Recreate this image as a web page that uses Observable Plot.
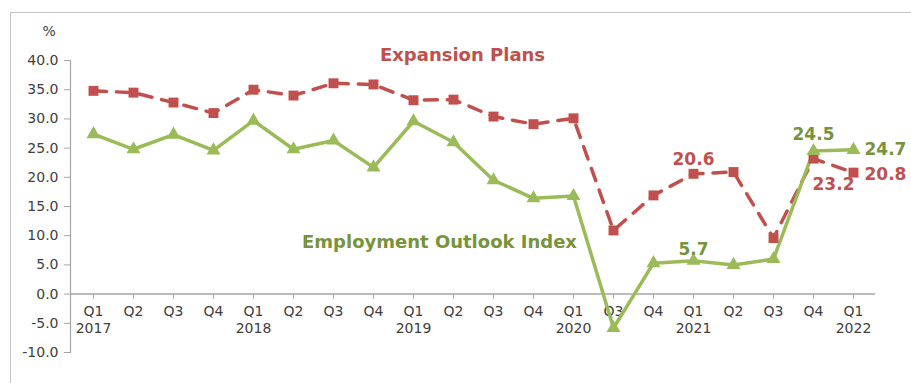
<!DOCTYPE html>
<html><head><meta charset="utf-8">
<script src="https://cdn.jsdelivr.net/npm/d3@7"></script>
<script src="https://cdn.jsdelivr.net/npm/@observablehq/plot@0.6"></script>
<style>
html,body{margin:0;padding:0;background:#fff;overflow:hidden}
#wrap{position:relative;width:911px;height:383px}
#frame{position:absolute;left:10px;top:12px;width:920px;height:400px;border:1.5px solid #c4c4c4;box-sizing:border-box}
#chart{position:absolute;left:0;top:0}
</style></head>
<body><div id="wrap"><div id="frame"></div><div id="chart"></div></div>
<script>
const quarters = ["Q1","Q2","Q3","Q4","Q1","Q2","Q3","Q4","Q1","Q2","Q3","Q4","Q1","Q3","Q4","Q1","Q2","Q3","Q4","Q1"];
const years    = ["2017","","","","2018","","","","2019","","","","2020","","","2021","","","","2022"];
const expansion  = [34.8,34.5,32.8,31.0,35.0,34.0,36.1,35.9,33.2,33.3,30.4,29.1,30.1,10.9,16.9,20.6,20.9,9.6,23.2,20.8];
const employment = [27.4,24.8,27.3,24.6,29.7,24.8,26.3,21.7,29.6,26.0,19.5,16.4,16.8,-5.8,5.3,5.7,5.0,6.0,24.5,24.7];
const yTicks = [40,35,30,25,20,15,10,5,0,-5,-10];

const keys = quarters.map((q,i)=>i);
const exp = keys.map(i=>({i, v: expansion[i]}));
const emp = keys.map(i=>({i, v: employment[i]}));
const red = "#c0504d", green = "#9bbb59", greenText = "#77933c";
const font = "DejaVu Sans";

// labelled points: index, series, offsets
const labelSpecs = [
  {i:15, s:"exp", dx:0,  dy:-14, anchor:"middle"},
  {i:18, s:"exp", dx:20, dy:26,  anchor:"middle"},
  {i:19, s:"exp", dx:11, dy:2,   anchor:"start"},
  {i:15, s:"emp", dx:0,  dy:-11, anchor:"middle"},
  {i:18, s:"emp", dx:0,  dy:-16, anchor:"middle"},
  {i:19, s:"emp", dx:11, dy:0,   anchor:"start"}
];
const labelMarks = labelSpecs.map(s => {
  const v = s.s === "exp" ? expansion[s.i] : employment[s.i];
  return Plot.text([{i: s.i, v}], {x: "i", y: "v", text: d => d.v.toFixed(1), dx: s.dx, dy: s.dy,
    textAnchor: s.anchor, fill: s.s === "exp" ? red : greenText, fontSize: 17, fontWeight: "bold"});
});

const plot = Plot.plot({
  width: 911, height: 383,
  marginLeft: 70, marginRight: 36, marginTop: 60, marginBottom: 31,
  style: {fontFamily: font, background: "transparent", overflow: "visible"},
  x: {type: "point", domain: keys, padding: 0.5, axis: null},
  y: {domain: [-10, 40], label: null, axis: null},
  marks: [
    Plot.axisY({ticks: yTicks, tickFormat: d => d.toFixed(1), tickSize: 6, tickPadding: 6, fontSize: 14, color: "#404040", stroke: "#a6a6a6", label: null}),
    Plot.frame({anchor: "left", stroke: "#a6a6a6", strokeWidth: 1.2}),
    Plot.ruleY([0], {stroke: "#a6a6a6", strokeWidth: 1.5}),
    Plot.ruleX(keys, {x: d => d, y1: 0, y2: -0.9, stroke: "#a6a6a6"}),
    Plot.text(keys, {x: d => d, y: 0, text: d => quarters[d], dy: 17, fontSize: 14, fill: "#404040"}),
    Plot.text(keys, {x: d => d, y: 0, text: d => years[d], dy: 34, fontSize: 14, fill: "#404040"}),
    Plot.text(["%"], {frameAnchor: "top-left", dx: -28, dy: -34, fontSize: 14, fill: "#404040"}),
    Plot.line(exp, {x: "i", y: "v", stroke: red, strokeWidth: 3.5, strokeDasharray: "13,10"}),
    Plot.line(emp, {x: "i", y: "v", stroke: green, strokeWidth: 3.5}),
    Plot.dot(exp, {x: "i", y: "v", symbol: "square", r: 5.6, fill: red, stroke: "none"}),
    Plot.dot(emp, {x: "i", y: "v", symbol: "triangle", r: 5.2, fill: green, stroke: "none"}),
    ...labelMarks,
    Plot.text(["Expansion Plans"], {x: [9], y: [40.9], dx: 9, text: d => d, fill: red, fontSize: 18, fontWeight: "bold"}),
    Plot.text(["Employment Outlook Index"], {x: [9], y: [8.9], dx: -14, text: d => d, fill: greenText, fontSize: 18, fontWeight: "bold"})
  ]
});
document.getElementById("chart").appendChild(plot);
</script></body></html>
